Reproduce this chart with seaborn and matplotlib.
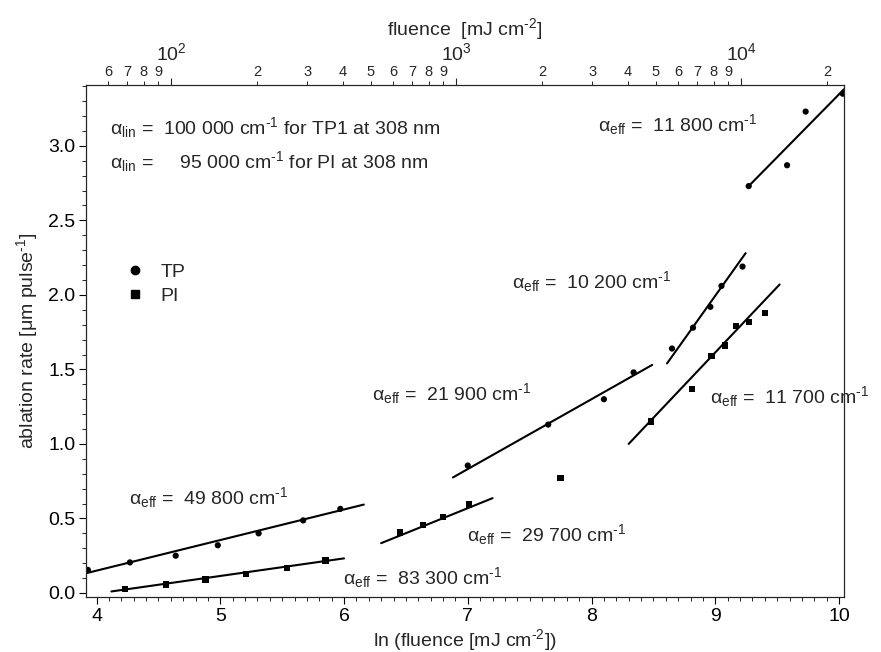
import numpy as np
import pandas as pd
import matplotlib
matplotlib.use("Agg")
import matplotlib.pyplot as plt
import seaborn as sns
from matplotlib.ticker import MultipleLocator, LogLocator, FuncFormatter
from matplotlib.lines import Line2D

# ---------------- data ----------------
tp_x = [3.93, 4.27, 4.64, 4.98, 5.31, 5.67, 5.97,
        7.00, 7.65, 8.10, 8.34,
        8.65, 8.82, 8.96, 9.05, 9.22,
        9.27, 9.58, 9.73, 10.03]
tp_y = [0.155, 0.205, 0.25, 0.32, 0.40, 0.487, 0.564,
        0.855, 1.13, 1.30, 1.48,
        1.64, 1.78, 1.92, 2.06, 2.19,
        2.73, 2.87, 3.23, 3.35]

pi_x = [4.23, 4.56, 4.88, 5.21, 5.54, 5.85,
        6.45, 6.64, 6.80, 7.01,
        7.75,
        8.48, 8.81, 8.97, 9.08, 9.17, 9.27, 9.40]
pi_y = [0.025, 0.057, 0.09, 0.125, 0.165, 0.218,
        0.405, 0.456, 0.509, 0.593,
        0.77,
        1.15, 1.37, 1.59, 1.66, 1.79, 1.82, 1.88]

# fitted lines (start / end) and their labels
fit_names = ["TP 49800", "TP 21900", "TP 10200", "TP 11800",
             "PI 83300", "PI 29700", "PI 11700"]
fit_x0 = [3.88, 6.88, 8.61, 9.27, 4.12, 6.30, 8.30]
fit_y0 = [0.125, 0.775, 1.54, 2.73, 0.010, 0.334, 1.00]
fit_x1 = [6.16, 8.49, 9.245, 10.04, 6.00, 7.20, 9.52]
fit_y1 = [0.593, 1.53, 2.28, 3.38, 0.232, 0.636, 2.07]

alpha_eff_vals = ["49 800", "21 900", "10 200", "11 800",
                  "83 300", "29 700", "11 700"]
label_x = [4.26, 6.23, 7.36, 8.05, 5.99, 6.99, 8.96]
label_y = [0.64, 1.34, 2.09, 3.14, 0.105, 0.39, 1.32]

lin_lines = ["100 000 cm$^{\\text{-}1}$ for TP1 at 308 nm",
             "   95 000 cm$^{\\text{-}1}$ for PI at 308 nm"]
lin_y = [3.12, 2.895]

x_limits = (3.915, 10.04)
y_limits = (-0.027, 3.41)

FS = 14

# ---------------- style ----------------
sns.set_theme(style="ticks")
plt.rcParams["font.family"] = ["Liberation Sans", "DejaVu Sans"]
plt.rcParams["mathtext.fontset"] = "custom"
plt.rcParams["mathtext.rm"] = "Liberation Sans"
plt.rcParams["mathtext.it"] = "Liberation Sans"
plt.rcParams["mathtext.default"] = "regular"
plt.rcParams["axes.linewidth"] = 0.8

fig = plt.figure(figsize=(8.81, 6.52), dpi=100)
ax = fig.add_axes([0.0976, 0.0844, 0.8604, 0.7856])

df_pts = pd.DataFrame({
    "x": tp_x + pi_x,
    "y": tp_y + pi_y,
    "material": ["TP"] * len(tp_x) + ["PI"] * len(pi_x),
})
sns.scatterplot(data=df_pts, x="x", y="y", style="material",
                markers={"TP": "o", "PI": "s"}, color="black",
                s=20, edgecolor="none", legend=False, ax=ax, zorder=3)

rows = []
for n, a, b, c, d in zip(fit_names, fit_x0, fit_y0, fit_x1, fit_y1):
    rows.append({"fit": n, "x": a, "y": b})
    rows.append({"fit": n, "x": c, "y": d})
df_fit = pd.DataFrame(rows)
sns.lineplot(data=df_fit, x="x", y="y", units="fit", estimator=None,
             color="black", lw=1.5, ax=ax, legend=False, sort=False)

ax.set_xlim(*x_limits)
ax.set_ylim(*y_limits)

ax.xaxis.set_major_locator(MultipleLocator(1))
ax.xaxis.set_minor_locator(MultipleLocator(0.1))
ax.yaxis.set_major_locator(MultipleLocator(0.5))
ax.yaxis.set_minor_locator(MultipleLocator(0.1))
ax.yaxis.set_major_formatter(FuncFormatter(lambda v, p: f"{v:.1f}"))
ax.tick_params(which="major", direction="out", length=4.8, width=0.8,
               labelsize=FS, pad=3, colors="black")
ax.tick_params(which="minor", direction="out", length=2.9, width=0.7)
ax.tick_params(axis="x", top=False)
ax.tick_params(axis="y", right=False)
for s in ax.spines.values():
    s.set_visible(True)
    s.set_color("black")

ax.set_xlabel("ln (fluence [mJ cm$^{\\text{-}2}$])", fontsize=FS, labelpad=2)
ax.set_ylabel("ablation rate [μm pulse$^{\\text{-}1}$]", fontsize=FS, labelpad=6)

# top axis: fluence (log)
ax2 = ax.twiny()
ax2.set_xscale("log")
ax2.set_xlim(np.exp(x_limits[0]), np.exp(x_limits[1]))
ax2.xaxis.set_major_locator(LogLocator(base=10, numticks=10))
ax2.xaxis.set_minor_locator(LogLocator(base=10, subs=tuple(range(2, 10)), numticks=20))
ax2.xaxis.set_major_formatter(FuncFormatter(
    lambda v, p: f"$10^{{{int(round(np.log10(v)))}}}$"))
ax2.xaxis.set_minor_formatter(FuncFormatter(
    lambda v, p: str(int(round(v / 10 ** np.floor(np.log10(v) + 1e-9))))))
ax2.tick_params(which="major", direction="out", length=4.8, width=0.8,
                labelsize=FS, pad=10)
ax2.tick_params(which="minor", direction="out", length=2.9, width=0.7,
                labelsize=10.5, pad=1)
ax2.set_xlabel("fluence  [mJ cm$^{\\text{-}2}$]", fontsize=FS, labelpad=5)
ax2.grid(False)

# annotations
for t, yy in zip(lin_lines, lin_y):
    ax.text(4.11, yy, r"$\alpha_{lin}$ =  " + t, fontsize=FS,
            ha="left", va="center")
for v, xx, yy in zip(alpha_eff_vals, label_x, label_y):
    ax.text(xx, yy, r"$\alpha_{eff}$ =  " + v + " cm$^{\\text{-}1}$", fontsize=FS,
            ha="left", va="center")

handles = [Line2D([], [], marker="o", ls="none", color="black", markersize=6),
           Line2D([], [], marker="s", ls="none", color="black", markersize=6)]
ax.legend(handles, ["TP", "PI"], loc="upper left", bbox_to_anchor=(0.052, 0.652),
          frameon=False, fontsize=FS, handlelength=1.0, handletextpad=0.8,
          labelspacing=0.35, borderpad=0, borderaxespad=0)

fig.savefig("out.png", dpi=100)
